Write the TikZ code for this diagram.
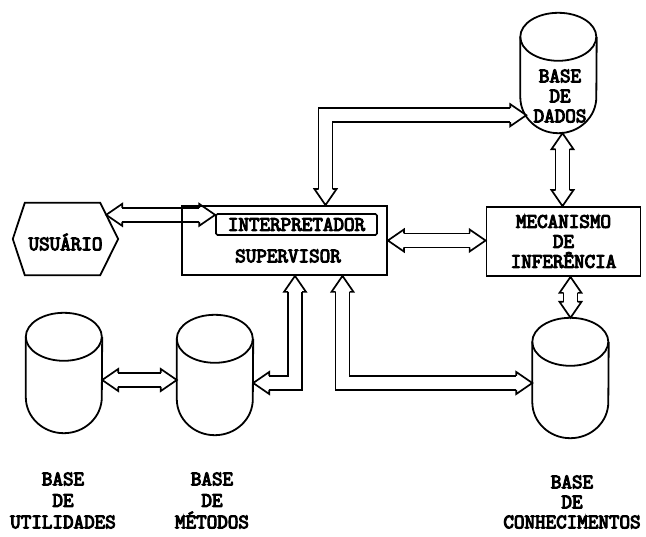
\documentclass[tikz,border=0pt]{standalone}
\usepackage{fontspec}
\usetikzlibrary{calc}
\usetikzlibrary{backgrounds}

\newfontfamily\typeface{Latin Modern Mono}[BoldFont={Latin Modern Mono},
  BoldFeatures={FakeBold=5}]
\newcommand{\diafont}{\typeface\bfseries\fontsize{20.5}{20}\selectfont}
\newcommand{\capfont}{\typeface\bfseries\fontsize{20.5}{21.5}\selectfont}
\newcommand{\capfonttight}{\typeface\bfseries\fontsize{20.5}{20}\selectfont}

\tikzset{
  boxline/.style={draw, line width=1.8pt},
  cylnode/.style={minimum width=76pt, minimum height=120pt, inner sep=0pt},
  caption/.style={align=center, inner sep=0pt, font=\capfont},
  shaft/.style={double=white, double distance=12.4pt, line width=1.7pt,
    line join=miter, shorten <=16pt, shorten >=16pt},
  pics/tiphead/.style={code={
    \draw[line width=1.7pt, line join=miter]
      (-16,-7) -- (-16,-11) -- (0,0) -- (-16,11) -- (-16,7);}},
}

% cylinder: name, centre x, top y
\newcommand{\basecyl}[3]{%
  \node[cylnode] (#1) at (#2,#3+60) {};
  \draw[boxline] ($(#1.north west)+(0,24)$)
    arc [start angle=180, end angle=0, x radius=38pt, y radius=24pt]
    arc [start angle=0, end angle=-180, x radius=38pt, y radius=24pt];
  \draw[boxline] ($(#1.north west)+(0,24)$) -- ($(#1.south west)+(0,-36)$)
    arc [start angle=180, end angle=360, x radius=38pt, y radius=36pt]
    -- ($(#1.north east)+(0,24)$);
}

\begin{document}
\begin{tikzpicture}[x=1pt, y=-1pt, font=\diafont]
    \useasboundingbox (0,0) rectangle (646,537);

    % user
    \node[minimum width=105pt, minimum height=72pt, inner sep=0pt,
      text height=22.5pt, text depth=0pt] (usr) at (65.5,239) {USUÁRIO};
    \coordinate (usrnw) at ($(usr.north west)+(12,0)$);
    \coordinate (usrne) at ($(usr.north east)+(-18,0)$);
    \coordinate (usrse) at ($(usr.south east)+(-18,0)$);
    \coordinate (usrsw) at ($(usr.south west)+(12,0)$);
    \draw[boxline, line join=miter] (usr.west) -- (usrnw) -- (usrne)
      -- (usr.east) -- (usrse) -- (usrsw) -- cycle;
    \coordinate (usrtip) at ($(usrne)!0.333!(usr.east)$);

    % supervisor
    \node[boxline, minimum width=205pt, minimum height=69pt] (sup) at (284.5,240.5) {};
    \node[draw, line width=1.7pt, rounded corners=1.5pt, minimum width=161pt,
      minimum height=21pt, inner sep=0pt] (interp) at (296.5,224.5) {INTERPRETADOR};
    \node (suptxt) at (288,256) {SUPERVISOR};

    % inference engine
    \node[boxline, minimum width=154pt, minimum height=69pt, align=center,
      inner sep=0pt] (mec) at (563.5,241.5) {MECANISMO\\DE\\INFERÊNCIA};

    % bases
    \basecyl{dados}{558.5}{13}
    \node[align=center, inner sep=0pt] (dadostxt) at (560,96) {BASE\\DE\\DADOS};
    \basecyl{util}{64}{313}
    \basecyl{met}{215}{315}
    \basecyl{conhec}{570.5}{318}

    \node[caption] (utiltxt) at (63,500.5) {BASE\\DE\\UTILIDADES};
    \node[caption] (mettxt) at (212,500.5) {BASE\\DE\\MÉTODOS};
    \node[caption, font=\capfonttight] (conhectxt) at (572,502) {BASE\\DE\\CONHECIMENTOS};

    % connector end points
    \coordinate (dadosin) at ($(dados.south west)+(6,-18)$);
    \coordinate (metin) at ($(met.east)+(0,8)$);
    \coordinate (conhecin) at ($(conhec.west)+(0,5)$);
    \coordinate (utilout) at ($(util.east)+(0,7)$);

    % connectors
    \begin{pgfonlayer}{background}
    \draw[shaft] (usrtip) -- (usrtip -| interp.west);
    \draw[shaft] ([xshift=41pt]sup.north) |- (dadosin);
    \draw[shaft] (sup.east) -- (sup.east -| mec.west);
    \draw[shaft] ([xshift=4pt]dados.south) -- ([xshift=4pt]dados.south |- mec.north);
    \draw[shaft] (conhec.north |- mec.south) -- (conhec.north);
    \draw[shaft] ([xshift=10.5pt]sup.south) |- (metin);
    \draw[shaft] ([xshift=58pt]sup.south) |- (conhecin);
    \draw[shaft] (utilout) -- (utilout -| met.west);
    \end{pgfonlayer}

    % arrow heads
    \pic[rotate=180] at (usrtip) {tiphead};
    \pic at (usrtip -| interp.west) {tiphead};
    \pic[rotate=-90] at ([xshift=41pt]sup.north) {tiphead};
    \pic at (dadosin) {tiphead};
    \pic[rotate=180] at (sup.east) {tiphead};
    \pic at (sup.east -| mec.west) {tiphead};
    \pic[rotate=90] at ([xshift=4pt]dados.south) {tiphead};
    \pic[rotate=-90] at ([xshift=4pt]dados.south |- mec.north) {tiphead};
    \pic[rotate=90] at (conhec.north |- mec.south) {tiphead};
    \pic[rotate=-90] at (conhec.north) {tiphead};
    \pic[rotate=90] at ([xshift=10.5pt]sup.south) {tiphead};
    \pic[rotate=180] at (metin) {tiphead};
    \pic[rotate=90] at ([xshift=58pt]sup.south) {tiphead};
    \pic at (conhecin) {tiphead};
    \pic[rotate=180] at (utilout) {tiphead};
    \pic at (utilout -| met.west) {tiphead};
\end{tikzpicture}
\end{document}
